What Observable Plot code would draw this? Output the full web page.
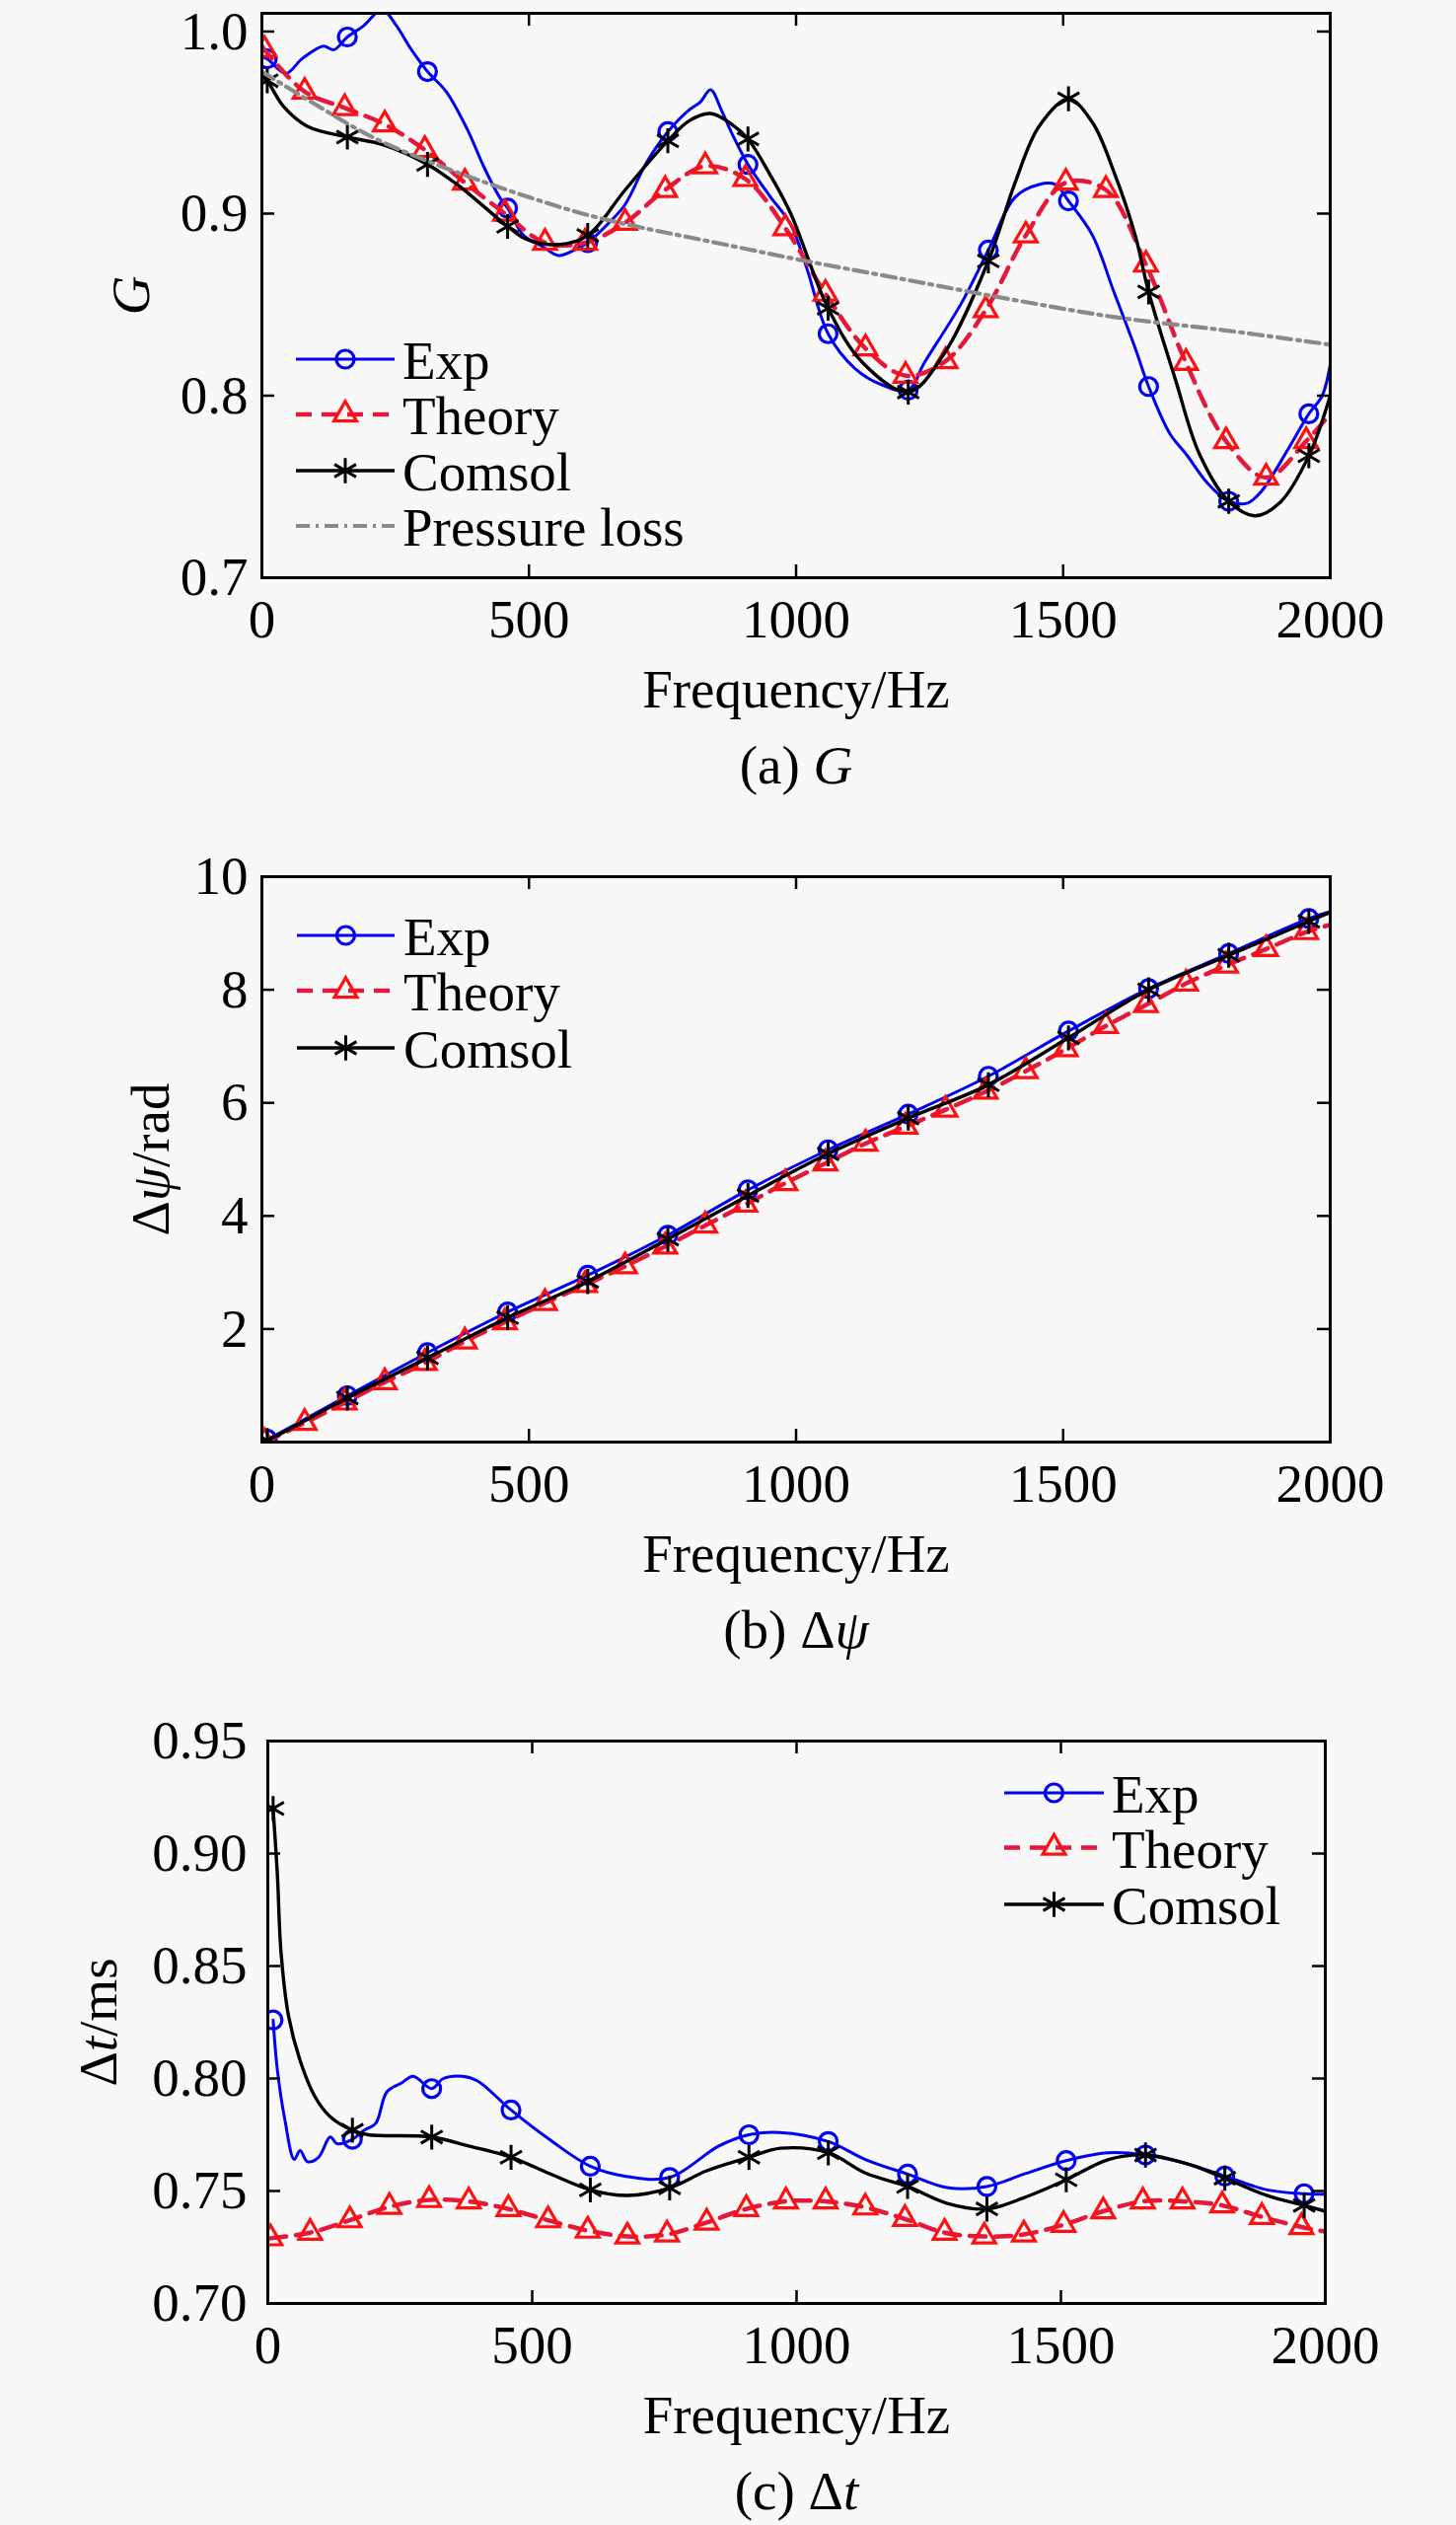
<!DOCTYPE html>
<html>
<head>
<meta charset="utf-8">
<script src="https://cdn.jsdelivr.net/npm/d3@7"></script>
<script src="https://cdn.jsdelivr.net/npm/@observablehq/plot@0.6"></script>
<style>
  html, body { margin: 0; padding: 0; background: #f8f8f8; }
  #charts { width: 1476px; }
  #charts svg { display: block; }
  #charts svg, #charts svg text, #charts svg tspan {
    font-family: "Liberation Serif", "Times New Roman", "DejaVu Serif", serif !important;
  }
</style>
</head>
<body>
<div id="charts"></div>
<script>
// ---------- shared ----------
const xTicks = [0, 500, 1000, 1500, 2000];
const xLabel = "Frequency/Hz";
const legendLabels = ["Exp", "Theory", "Comsol", "Pressure loss"];
const markF150 = [10, 160, 310, 460, 610, 760, 910, 1060, 1210, 1360, 1510, 1660, 1810, 1960];
const markF75 = [5, 80, 155, 230, 305, 380, 455, 530, 605, 680, 755, 830, 905, 980, 1055, 1130, 1205, 1280, 1355, 1430, 1505, 1580, 1655, 1730, 1805, 1880, 1955];

// ---------- (a) G ----------
const gTicks = [0.7, 0.8, 0.9, 1.0];
const gExpF = [0,10,45,75,115,135,160,190,225,250,280,310,345,385,415,445,460,490,525,555,585,610,650,680,720,760,800,820,840,860,880,910,950,990,1020,1060,1110,1160,1210,1240,1310,1360,1410,1455,1485,1510,1555,1595,1635,1660,1700,1730,1770,1810,1845,1870,1920,1960,1985,2000];
const gExpV = [0.986,0.985,0.977,0.985,0.992,0.990,0.997,1.003,1.012,1.004,0.990,0.978,0.967,0.946,0.926,0.909,0.903,0.888,0.882,0.877,0.880,0.884,0.895,0.905,0.928,0.945,0.957,0.961,0.968,0.957,0.944,0.927,0.910,0.894,0.870,0.834,0.815,0.806,0.803,0.818,0.851,0.880,0.909,0.916,0.916,0.907,0.888,0.857,0.826,0.805,0.779,0.768,0.752,0.742,0.741,0.747,0.770,0.790,0.800,0.817];
const gTheF = [0,5,80,155,230,305,380,455,530,605,680,755,830,905,980,1055,1130,1205,1280,1355,1430,1505,1580,1655,1730,1805,1880,1955,2000];
const gTheV = [0.992,0.990,0.967,0.958,0.949,0.935,0.917,0.900,0.884,0.884,0.895,0.913,0.926,0.919,0.892,0.856,0.826,0.811,0.819,0.847,0.888,0.917,0.913,0.872,0.818,0.775,0.755,0.775,0.790];
const gComF = [0,10,40,85,160,225,310,370,460,495,555,610,680,760,800,840,880,910,950,990,1060,1125,1210,1275,1360,1410,1455,1510,1555,1595,1635,1660,1710,1755,1810,1860,1905,1960,2000];
const gComV = [0.976,0.973,0.959,0.948,0.942,0.938,0.927,0.915,0.893,0.886,0.883,0.888,0.913,0.940,0.951,0.955,0.949,0.941,0.922,0.900,0.848,0.818,0.802,0.822,0.874,0.917,0.948,0.963,0.950,0.923,0.888,0.857,0.809,0.768,0.742,0.734,0.741,0.767,0.800];
const gPlF = [0,100,200,300,400,500,600,700,800,900,1000,1200,1400,1600,1800,2000];
const gPlV = [0.978,0.960,0.943,0.930,0.919,0.909,0.900,0.893,0.887,0.881,0.875,0.864,0.853,0.843,0.836,0.828];

// ---------- (b) delta psi ----------
const pTicks = [2, 4, 6, 8, 10];
const pExpF = [0,10,160,310,460,610,760,910,1060,1210,1360,1510,1660,1810,1960,2000];
const pExpV = [0.02,0.05,0.82,1.58,2.30,2.95,3.66,4.46,5.17,5.80,6.47,7.27,8.02,8.64,9.26,9.38];
const pTheF = [5,80,155,230,305,380,455,530,605,680,755,830,905,980,1055,1130,1205,1280,1355,1430,1505,1580,1655,1730,1805,1880,1955,2000];
const pTheV = [0.0,0.34,0.70,1.06,1.40,1.78,2.12,2.46,2.78,3.11,3.46,3.83,4.20,4.58,4.93,5.28,5.58,5.88,6.20,6.56,6.95,7.36,7.73,8.11,8.43,8.72,9.02,9.15];
const pComF = [0,10,160,310,460,610,760,910,1060,1210,1360,1510,1660,1810,1960,2000];
const pComV = [0.0,0.03,0.78,1.49,2.20,2.84,3.59,4.36,5.10,5.73,6.32,7.15,8.00,8.61,9.21,9.37];

// ---------- (c) delta t ----------
const tTicks = [0.70, 0.75, 0.80, 0.85, 0.90, 0.95];
const tExpF = [10,18,32,50,61,75,96,118,131,160,182,204,225,253,275,310,332,368,396,460,532,610,675,760,853,910,968,1060,1130,1210,1287,1360,1430,1510,1590,1660,1740,1810,1890,1960,2000];
const tExpV = [0.826,0.804,0.782,0.764,0.768,0.763,0.765,0.774,0.771,0.773,0.777,0.780,0.794,0.798,0.801,0.7955,0.800,0.801,0.799,0.786,0.773,0.761,0.7566,0.756,0.770,0.775,0.776,0.772,0.764,0.7575,0.7514,0.752,0.7575,0.7635,0.767,0.766,0.762,0.7566,0.7505,0.7488,0.7486];
const tTheF = [5,80,155,230,305,380,455,530,605,680,755,830,905,980,1055,1130,1205,1280,1355,1430,1505,1580,1655,1730,1805,1880,1955,2000];
const tTheV = [0.729,0.7315,0.737,0.743,0.746,0.7454,0.742,0.737,0.7324,0.7298,0.7307,0.736,0.742,0.7454,0.7454,0.7427,0.7376,0.7315,0.7298,0.7307,0.735,0.741,0.7454,0.7454,0.7436,0.7385,0.734,0.732];
const tComF = [10,18,25,39,61,89,118,160,190,310,380,460,540,610,680,760,830,910,970,1060,1130,1210,1285,1360,1430,1510,1590,1660,1740,1810,1890,1960,2000];
const tComV = [0.920,0.891,0.856,0.828,0.808,0.792,0.783,0.777,0.775,0.774,0.770,0.765,0.757,0.7505,0.748,0.7514,0.759,0.765,0.769,0.767,0.758,0.752,0.7445,0.742,0.747,0.755,0.764,0.766,0.762,0.7557,0.748,0.7436,0.741];

// ---------- styles ----------
const styles = {
  exp:    {stroke: "#0000f2", width: 3, dash: null, symbol: "circle", r: 9, symStroke: "#0000f2", symWidth: 3.2},
  theory: {stroke: "#e5173b", width: 4.5, dash: "16,10", symbol: "triangle", r: 8.5, symStroke: "#ff1010", symWidth: 3.2},
  comsol: {stroke: "#000000", width: 3.4, dash: null, symbol: "asterisk", r: 12, symStroke: "#000000", symWidth: 3},
  pl:     {stroke: "#8a8a8a", width: 4.2, dash: "14,6,3,6", symbol: null}
};
const d3Symbols = {circle: d3.symbolCircle, triangle: d3.symbolTriangle, asterisk: d3.symbolAsterisk};

function rows(F, V) { return F.map((f, i) => ({f, v: V[i]})); }

function richText(svg, plain, parts) {
  d3.select(svg).selectAll("text").filter(function () { return this.textContent === plain; })
    .each(function () {
      const t = d3.select(this);
      t.text(null);
      parts.forEach(([s, it]) => t.append("tspan").attr("font-style", it ? "italic" : null).text(s));
    });
}

function panel(cfg) {
  const W = 1476;
  const plotW = W - cfg.ml - cfg.mr;
  const plotH = cfg.height - cfg.mt - cfg.mb;
  const tl = 13;
  const marks = [];
  for (const s of cfg.series) {
    const st = styles[s.key];
    const lineOpts = {x: "f", y: "v", stroke: st.stroke, strokeWidth: st.width, curve: "catmull-rom", clip: true};
    if (st.dash) lineOpts.strokeDasharray = st.dash;
    marks.push(Plot.line(s.data, lineOpts));
    if (st.symbol) {
      marks.push(Plot.dot(s.data.filter(d => s.markF.includes(d.f)), {
        x: "f", y: "v", symbol: st.symbol, r: st.r, stroke: st.symStroke, strokeWidth: st.symWidth, fill: "none", clip: true
      }));
    }
  }
  marks.push(
    Plot.tickX(xTicks, {x: d => d, insetTop: plotH - tl, strokeWidth: 2.5}),
    Plot.tickX(xTicks, {x: d => d, insetBottom: plotH - tl, strokeWidth: 2.5}),
    Plot.tickY(cfg.yTicks, {y: d => d, insetRight: plotW - tl, strokeWidth: 2.5}),
    Plot.tickY(cfg.yTicks, {y: d => d, insetLeft: plotW - tl, strokeWidth: 2.5}),
    Plot.frame({stroke: "#000", strokeWidth: 3}),
    Plot.axisX({ticks: xTicks, tickSize: 0, tickPadding: 21, tickFormat: d3.format("d"), label: null}),
    Plot.axisY({ticks: cfg.yTicks, tickSize: 0, tickPadding: cfg.yPad, tickFormat: d3.format(cfg.fmt), label: null}),
    Plot.text([xLabel], {text: d => d, frameAnchor: "bottom", dy: 131, lineAnchor: "bottom", textAnchor: "middle"}),
    Plot.text([cfg.caption], {text: d => d, frameAnchor: "bottom", dy: 208, lineAnchor: "bottom", textAnchor: "middle"}),
    Plot.text([cfg.yLabel], {text: d => d, frameAnchor: "left", rotate: -90, dx: cfg.yLabelDx, lineAnchor: "bottom", textAnchor: "middle", fontStyle: cfg.yLabelItalic ? "italic" : "normal"})
  );
  const svg = Plot.plot({
    width: W, height: cfg.height,
    marginTop: cfg.mt, marginBottom: cfg.mb, marginLeft: cfg.ml, marginRight: cfg.mr,
    x: {domain: [0, 2000]},
    y: {domain: cfg.yDomain},
    style: {fontFamily: "'Liberation Serif', 'Times New Roman', serif", fontSize: "55px", color: "#000", background: "transparent", overflow: "visible"},
    marks
  });
  richText(svg, cfg.caption, cfg.captionParts);
  if (cfg.yLabelParts) richText(svg, cfg.yLabel, cfg.yLabelParts);
  // legend (not data): drawn into the same svg
  const g = d3.select(svg).append("g").attr("class", "legend").attr("text-anchor", "start");
  const L = cfg.legend;
  L.rows.forEach((y, i) => {
    const s = cfg.series[i];
    const st = styles[s.key];
    g.append("line").attr("x1", L.x1).attr("x2", L.x2).attr("y1", y).attr("y2", y)
      .attr("stroke", st.stroke).attr("stroke-width", st.width)
      .attr("stroke-dasharray", st.dash);
    if (st.symbol) {
      g.append("path").attr("transform", `translate(${(L.x1 + L.x2) / 2},${y})`)
        .attr("d", d3.symbol(d3Symbols[st.symbol], Math.PI * st.r * st.r)())
        .attr("fill", "none").attr("stroke", st.symStroke).attr("stroke-width", st.symWidth);
    }
    g.append("text").attr("x", L.xt).attr("y", y + 20).attr("text-anchor", "start").attr("fill", "#000").text(legendLabels[i]);
  });
  return svg;
}

const root = document.getElementById("charts");

root.append(panel({
  height: 850, mt: 13, mb: 265, ml: 265, mr: 128,
  yDomain: [0.7, 1.01], yTicks: gTicks, fmt: ".1f", yPad: 14,
  yLabel: "G", yLabelItalic: true, yLabelDx: -115,
  caption: "(a) G", captionParts: [["(a) ", false], ["G", true]],
  series: [
    {key: "exp", data: rows(gExpF, gExpV), markF: markF150},
    {key: "theory", data: rows(gTheF, gTheV), markF: markF75},
    {key: "comsol", data: rows(gComF, gComV), markF: markF150},
    {key: "pl", data: rows(gPlF, gPlV), markF: []}
  ],
  legend: {x1: 300, x2: 400, xt: 408, rows: [364, 420, 477, 533]}
}));

root.append(panel({
  height: 875, mt: 38, mb: 264, ml: 265, mr: 128,
  yDomain: [0, 10], yTicks: pTicks, fmt: "d", yPad: 14,
  yLabel: "Δψ/rad", yLabelDx: -95, yLabelParts: [["Δ", false], ["ψ", true], ["/rad", false]],
  caption: "(b) Δψ", captionParts: [["(b) Δ", false], ["ψ", true]],
  series: [
    {key: "exp", data: rows(pExpF, pExpV), markF: markF150},
    {key: "theory", data: rows(pTheF, pTheV), markF: markF75},
    {key: "comsol", data: rows(pComF, pComV), markF: markF150}
  ],
  legend: {x1: 301, x2: 400, xt: 409, rows: [98, 154, 212]}
}));

root.append(panel({
  height: 834, mt: 39, mb: 225, ml: 271, mr: 133,
  yDomain: [0.70, 0.95], yTicks: tTicks, fmt: ".2f", yPad: 21,
  yLabel: "Δt/ms", yLabelDx: -154, yLabelParts: [["Δ", false], ["t", true], ["/ms", false]],
  caption: "(c) Δt", captionParts: [["(c) Δ", false], ["t", true]],
  series: [
    {key: "exp", data: rows(tExpF, tExpV), markF: markF150},
    {key: "theory", data: rows(tTheF, tTheV), markF: markF75},
    {key: "comsol", data: rows(tComF, tComV), markF: markF150}
  ],
  legend: {x1: 1018, x2: 1119, xt: 1127, rows: [92, 147.5, 205]}
}));
</script>
</body>
</html>
